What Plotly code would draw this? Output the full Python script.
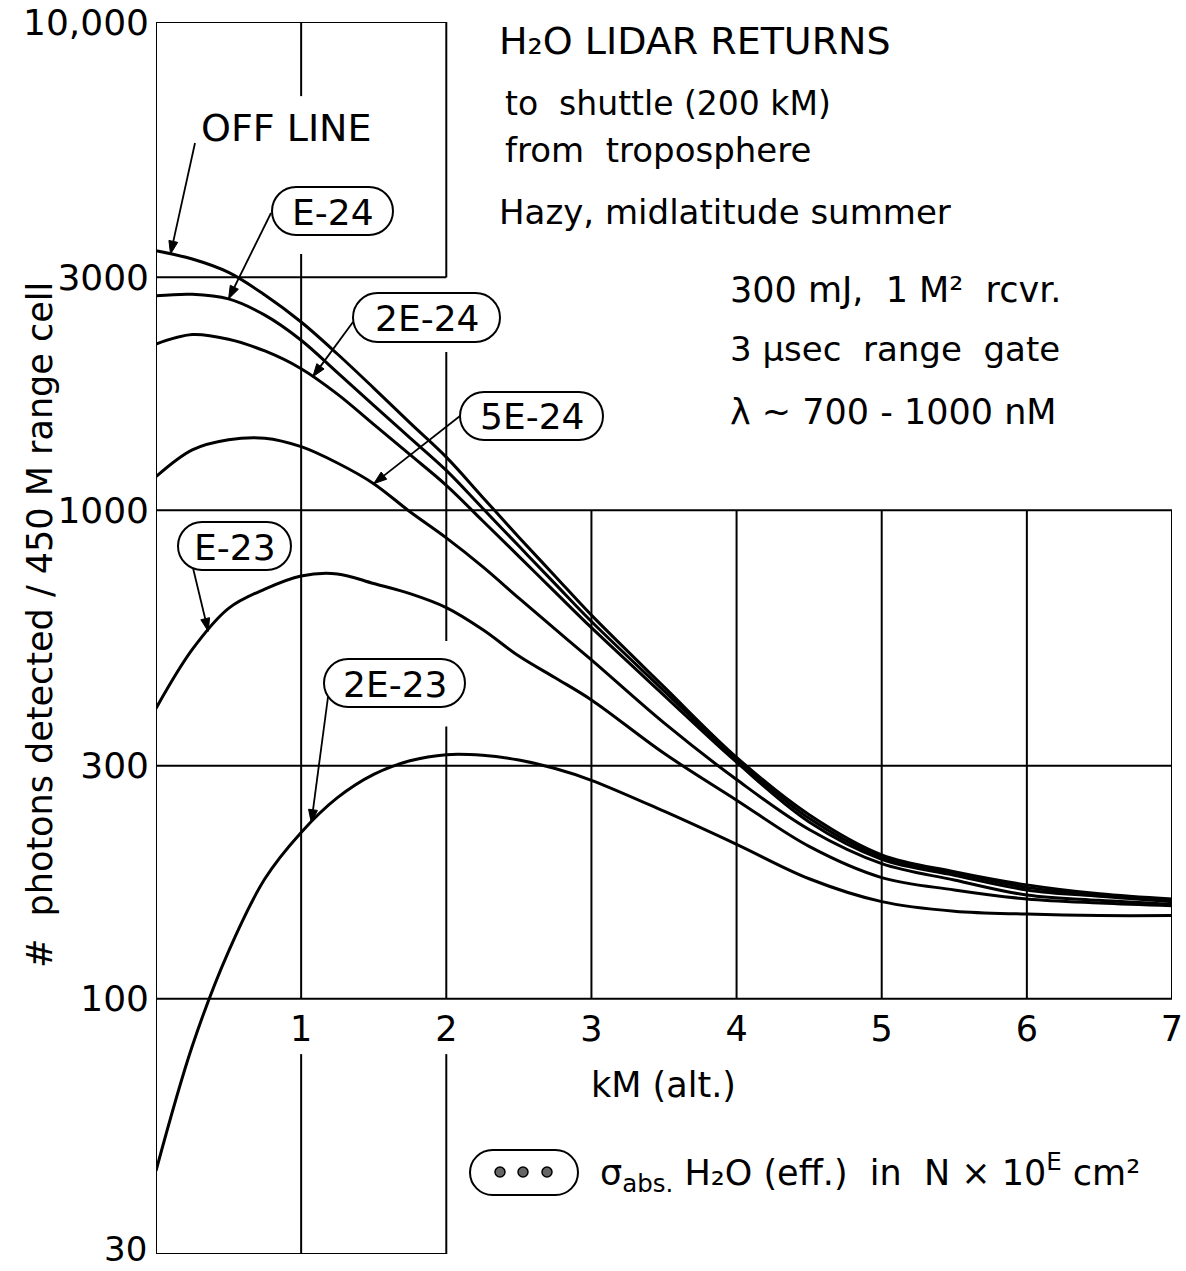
import math
import numpy as np
import plotly.graph_objects as go

# ---------------- data ----------------
altitude_km = [0, 0.25, 0.5, 0.75, 1, 1.25, 1.5, 1.75, 2, 2.25, 2.5, 2.75, 3, 3.5, 4, 4.5, 5, 5.5, 6, 6.5, 7]
off_line = [3400, 3270, 3070, 2760, 2430, 2090, 1780, 1510, 1285, 1064, 881, 733, 610, 435, 312, 238, 197, 182, 171, 164, 160]
sig_e24 = [2750, 2770, 2710, 2510, 2230, 1914, 1640, 1407, 1207, 1010, 845, 707, 592, 427, 309, 234, 195, 181, 169, 163, 159]
sig_2e24 = [2190, 2290, 2240, 2120, 1950, 1730, 1500, 1300, 1125, 952, 805, 680, 575, 418, 305, 230, 193, 179, 167, 162, 158]
sig_5e24 = [1172, 1330, 1395, 1405, 1350, 1250, 1134, 993, 878, 767, 661, 571, 494, 367, 281, 222, 189, 175, 163, 159, 156]
sig_e23 = [393, 519, 630, 690, 734, 741, 708, 675, 632, 570, 503, 454, 409, 318, 255, 205, 177, 167, 160, 157, 155]
sig_2e23 = [44.4, 80, 125, 176, 219, 258, 288, 307, 316, 315, 308, 296, 280, 242, 207, 176, 158, 151, 149, 148, 148]

series_names = ["OFF LINE", "E-24", "2E-24", "5E-24", "E-23", "2E-23"]
series_values = [off_line, sig_e24, sig_2e24, sig_5e24, sig_e23, sig_2e23]

y_tick_vals = [30, 100, 300, 1000, 3000, 10000]
y_tick_text = ["30", "100", "300", "1000", "3000", "10,000"]
x_tick_vals = [1, 2, 3, 4, 5, 6, 7]
x_tick_text = ["1", "2", "3", "4", "5", "6", "7"]

# partial grid (value, from, to)
h_grid = [(10000, 0, 2), (3000, 0, 2), (1000, 0, 7), (300, 0, 7), (100, 0, 7), (30, 0, 2)]
v_grid = [(0, 30, 10000), (1, 7050, 10000), (1, 100, 3350), (1, 30, 77),
          (2, 3000, 10000), (2, 540, 2110), (2, 100, 361), (2, 30, 77),
          (3, 100, 1000), (4, 100, 1000), (5, 100, 1000), (6, 100, 1000), (7, 100, 1000)]

# ---------------- layout geometry ----------------
W, H = 1186, 1271
ML, MR, MT, MB = 156, 14, 22, 17
PW = W - ML - MR
PH = H - MT - MB
FONT = "DejaVu Sans"
XMIN, XMAX = 0.0, 7.0
YMIN, YMAX = math.log10(30), 4.0


def px(xp, yp):
    """pixel -> paper"""
    return (xp - ML) / PW, (MT + PH - yp) / PH


def data_px(k, v):
    """data -> pixel, same linear/log mapping as the axes"""
    return (ML + (k - XMIN) / (XMAX - XMIN) * PW,
            MT + (YMAX - math.log10(v)) / (YMAX - YMIN) * PH)


def path_from(cmds):
    s = ""
    for cmd, pp in cmds:
        s += cmd + " " + " ".join("%.5f,%.5f" % px(a, b) for a, b in pp) + " "
    return s + "Z"


def stadium(x0, y0, x1, y1):
    r = (y1 - y0) / 2.0
    k = 0.5523 * r
    return path_from([
        ("M", [(x0 + r, y0)]),
        ("L", [(x1 - r, y0)]),
        ("C", [(x1 - r + k, y0), (x1, y0 + r - k), (x1, y0 + r)]),
        ("C", [(x1, y0 + r + k), (x1 - r + k, y1), (x1 - r, y1)]),
        ("L", [(x0 + r, y1)]),
        ("C", [(x0 + r - k, y1), (x0, y1 - r + k), (x0, y1 - r)]),
        ("C", [(x0, y1 - r - k), (x0 + r - k, y0), (x0 + r, y0)]),
    ])


def interp_log(vals, k):
    return float(10 ** np.interp(k, altitude_km, np.log10(vals)))


fig = go.Figure()

# grid
gx, gy = [], []
for v, a, b in h_grid:
    gx += [a, b, None]
    gy += [v, v, None]
for xv, a, b in v_grid:
    gx += [xv, xv, None]
    gy += [a, b, None]
fig.add_trace(go.Scatter(x=gx, y=gy, mode="lines", line=dict(color="black", width=2),
                         hoverinfo="skip", showlegend=False))

for name, vals in zip(series_names, series_values):
    fig.add_trace(go.Scatter(x=altitude_km, y=vals, mode="lines", name=name,
                             line=dict(color="black", width=3, shape="spline", smoothing=1.0),
                             showlegend=False))

shapes = []
annotations = []

# label boxes (pixel boxes) and text
label_boxes = {
    "E-24": (272, 187, 393, 235),
    "2E-24": (353, 293, 500, 342),
    "5E-24": (460, 392, 603, 440),
    "E-23": (178, 522, 291, 570),
    "2E-23": (324, 659, 465, 707),
}
for name, (x0, y0, x1, y1) in label_boxes.items():
    shapes.append(dict(type="path", path=stadium(x0, y0, x1, y1), xref="paper", yref="paper",
                       line=dict(color="black", width=2), fillcolor="white"))
    cx, cy = px((x0 + x1) / 2, (y0 + y1) / 2 + 1)
    annotations.append(dict(text=name, x=cx, y=cy, xref="paper", yref="paper", showarrow=False,
                            xanchor="center", yanchor="middle", font=dict(size=36, family=FONT, color="black")))

# leader arrows: (series index, altitude at head, tail x, tail y in pixels)
arrows = [(0, 0.1, 195, 143), (1, 0.5, 271, 213), (2, 1.08, 353, 322),
          (3, 1.5, 460, 416), (4, 0.36, 193, 568), (5, 1.07, 328, 697)]
for idx, k, tx, ty in arrows:
    hx, hy = data_px(k, interp_log(series_values[idx], k))
    dx, dy = hx - tx, hy - ty
    L = math.hypot(dx, dy)
    ux, uy = dx / L, dy / L
    alen, aw = 13.0, 4.5
    bx, by = hx - ux * alen, hy - uy * alen
    x0p, y0p = px(tx, ty)
    x1p, y1p = px(bx, by)
    shapes.append(dict(type="line", x0=x0p, y0=y0p, x1=x1p, y1=y1p, xref="paper", yref="paper",
                       line=dict(color="black", width=1.8)))
    shapes.append(dict(type="path", xref="paper", yref="paper", fillcolor="black",
                       line=dict(color="black", width=1),
                       path=path_from([("M", [(hx, hy)]),
                                       ("L", [(bx - uy * aw, by + ux * aw)]),
                                       ("L", [(bx + uy * aw, by - ux * aw)])])))

# free text
texts = [
    ("OFF LINE", 199, 128, 38),
    ("H\u2082O LIDAR RETURNS", 497, 41, 38),
    ("to  shuttle (200 kM)", 503, 103, 33),
    ("from  troposphere", 503, 150, 34),
    ("Hazy, midlatitude summer", 497, 212, 34),
    ("300 mJ,  1 M\u00b2  rcvr.", 728, 290, 35),
    ("3 \u03bcsec  range  gate", 728, 349, 34),
    ("\u03bb ~ 700 - 1000 nM", 728, 412, 35),
    ("\u03c3<sub>abs.</sub> H\u2082O (eff.)  in  N \u00d7 10<sup>E</sup> cm\u00b2", 598, 1172, 35),
]
for t, x, y, s in texts:
    xp, yp = px(x, y)
    annotations.append(dict(text=t, x=xp, y=yp, xref="paper", yref="paper", showarrow=False,
                            xanchor="left", yanchor="middle", font=dict(size=s, family=FONT, color="black")))

xp, yp = px(663, 1085)
annotations.append(dict(text="kM (alt.)", x=xp, y=yp, xref="paper", yref="paper", showarrow=False,
                        xanchor="center", yanchor="middle", font=dict(size=35, family=FONT, color="black")))
xp, yp = px(40, 625)
annotations.append(dict(text="#  photons detected / 450 M range cell", x=xp, y=yp, xref="paper", yref="paper",
                        showarrow=False, textangle=-90, xanchor="center", yanchor="middle",
                        font=dict(size=35, family=FONT, color="black")))

# lowest y tick label, kept inside the page
xp, yp = px(149, H)
annotations.append(dict(text=y_tick_text[0], x=xp, y=yp, xref="paper", yref="paper", showarrow=False,
                        xanchor="right", yanchor="bottom", font=dict(size=34, family=FONT, color="black")))

# legend symbol
shapes.append(dict(type="path", path=stadium(470, 1150, 578, 1195), xref="paper", yref="paper",
                   line=dict(color="black", width=2), fillcolor="white"))
for cxp in (500, 523, 547):
    x0, y0 = px(cxp - 5, 1167)
    x1, y1 = px(cxp + 5, 1177)
    shapes.append(dict(type="circle", x0=x0, y0=y0, x1=x1, y1=y1, xref="paper", yref="paper",
                       line=dict(color="black", width=1.5), fillcolor="#666"))

p100 = (2 - YMIN) / (YMAX - YMIN)

fig.update_layout(
    template="none",
    width=W, height=H,
    margin=dict(l=ML, r=MR, t=MT, b=MB, pad=0),
    paper_bgcolor="white", plot_bgcolor="white",
    showlegend=False,
    font=dict(family=FONT, color="black"),
    xaxis=dict(range=[XMIN, XMAX], anchor="free", position=p100, tickvals=x_tick_vals, ticktext=x_tick_text,
               showgrid=False, zeroline=False, showline=False, ticks="", automargin=False,
               tickfont=dict(size=35, family=FONT, color="black"), ticklabelstandoff=6,
               ticklabeloverflow="allow"),
    yaxis=dict(type="log", range=[YMIN, YMAX], tickvals=y_tick_vals[1:], ticktext=y_tick_text[1:],
               showgrid=False, zeroline=False, showline=False, ticks="", automargin=False,
               tickfont=dict(size=36, family=FONT, color="black"), ticklabelstandoff=6,
               ticklabeloverflow="allow"),
    shapes=shapes,
    annotations=annotations,
)

fig.write_html("out.html")
